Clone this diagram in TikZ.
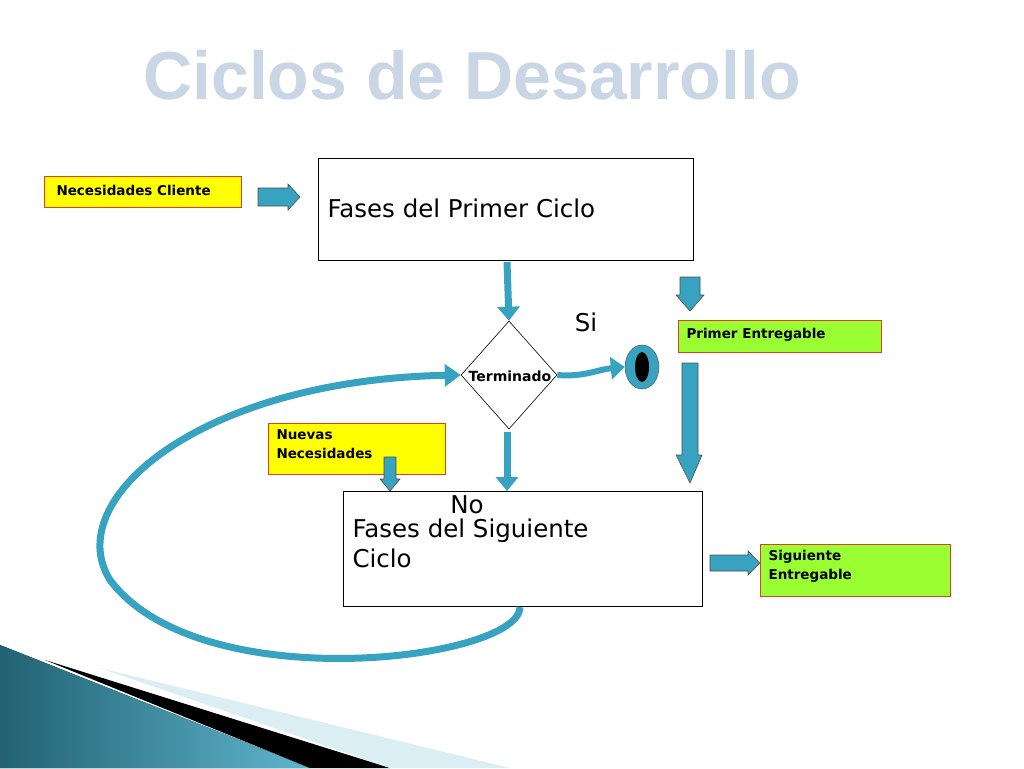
\documentclass[tikz,border=0pt]{standalone}
\usepackage{fontspec}
\setmainfont{DejaVu Sans}
\newfontfamily\titlefont{Liberation Sans}
\usetikzlibrary{shapes.geometric,arrows.meta}
\definecolor{teal}{HTML}{38A3C1}
\definecolor{yel}{HTML}{FFFF00}
\definecolor{grn}{HTML}{99FF33}
\definecolor{redb}{HTML}{E04020}
\definecolor{ttl}{HTML}{C9D6E6}
\tikzset{
  x=1pt,y=-1pt,
  smallbox/.style={draw=redb,line width=0.8pt,anchor=north west,inner sep=0pt},
  smalltxt/.style={font=\bfseries\fontsize{13.5}{19}\selectfont,align=left},
  bigtxt/.style={font=\fontsize{24.5}{30}\selectfont,align=left},
  bigbox/.style={draw=black,line width=0.6pt,anchor=north west,inner sep=0pt},
  blk/.style={draw=black!70,fill=teal,line width=0.6pt},
  thickarrow/.style={teal,line width=7pt,-{Triangle[length=14pt,width=22pt]}},
}
\begin{document}
\begin{tikzpicture}
\useasboundingbox (0,0) rectangle (1024,768);
% decoration
\fill[left color=teal!60!black,right color=teal!80!white] (0,645) -- (310,768) -- (0,768) -- cycle;
\fill[black] (45,660) -- (390,768) -- (310,768) -- cycle;
\fill[teal!18] (100,668) -- (510,768) -- (390,768) -- cycle;
% title
\node[font=\titlefont\bfseries\fontsize{68}{68}\selectfont,text=ttl] (title) at (472,75) {Ciclos de Desarrollo};
% boxes
\node[smallbox,fill=yel,minimum width=197pt,minimum height=31pt] (nc) at (44,176) {};
\node[smalltxt,anchor=west] (nct) at (53,190) {Necesidades Cliente};
\node[bigbox,minimum width=375pt,minimum height=102pt] (fp) at (318,158) {};
\node[bigtxt,anchor=west] (fpt) at (324,208) {Fases del Primer Ciclo};
\node[smallbox,fill=grn,minimum width=203pt,minimum height=32pt] (pe) at (678,320) {};
\node[smalltxt,anchor=west] (pet) at (683,335) {Primer Entregable};
\node[diamond,draw,line width=0.6pt,minimum width=96pt,minimum height=108pt,inner sep=0pt] (dia) at (509,375) {};
\node[font=\bfseries\fontsize{14}{15}\selectfont] (dt) at (510,376) {Terminado};
\node[bigtxt] (si) at (586,322) {Si};
\node[ellipse,draw=black!70,fill=teal,minimum width=34pt,minimum height=44pt,inner sep=0pt] (ell) at (642,367) {};
\node[ellipse,fill=black,minimum width=14pt,minimum height=30pt,inner sep=0pt] (elli) at (642,367) {};
\node[smallbox,fill=yel,minimum width=177pt,minimum height=51pt] (nn) at (268,423) {};
\node[smalltxt,anchor=north west] (nnt) at (273,426) {Nuevas\\Necesidades};
\node[bigbox,minimum width=359pt,minimum height=115pt] (fs) at (343,491) {};
\node[bigtxt,anchor=north west] (fst) at (349,515) {Fases del Siguiente\\Ciclo};
\node[bigtxt] (no) at (467,505) {No};
\node[smallbox,fill=grn,minimum width=190pt,minimum height=52pt] (se) at (760,544) {};
\node[smalltxt,anchor=north west] (set) at (765,547) {Siguiente\\Entregable};
% block arrows
\draw[blk] (258,188) -- (288,188) -- (288,184) -- (300,197) -- (288,210) -- (288,206) -- (258,206) -- cycle;
\draw[blk] (680,277) -- (700,277) -- (700,295) -- (704,295) -- (690,311) -- (676,295) -- (680,295) -- cycle;
\draw[blk] (682,363) -- (698,363) -- (698,455) -- (702,455) -- (690,483) -- (676,455) -- (682,455) -- cycle;
\draw[blk] (384,457) -- (396,457) -- (396,479) -- (400,479) -- (390,491) -- (380,479) -- (384,479) -- cycle;
\draw[blk] (710,555) -- (748,555) -- (748,551) -- (760,563) -- (748,575) -- (748,571) -- (710,571) -- cycle;
% connectors
\coordinate (d1) at (507,262);
\coordinate (d2) at (507,432);
\coordinate (lp) at (520,607);
\draw[thickarrow] (d1) -- (dia.north);
\draw[thickarrow] (d2) -- (fs.north -| d2);
\draw[thickarrow,line width=6pt] (dia.east) to[out=-5,in=185] (ell.west);
\draw[teal,line width=7pt,-{Triangle[length=16pt,width=22pt]}] (lp) .. controls (520,660) and (200,700) .. (110,580)
  .. controls (60,500) and (200,380) .. (dia.west);
\end{tikzpicture}
\end{document}
